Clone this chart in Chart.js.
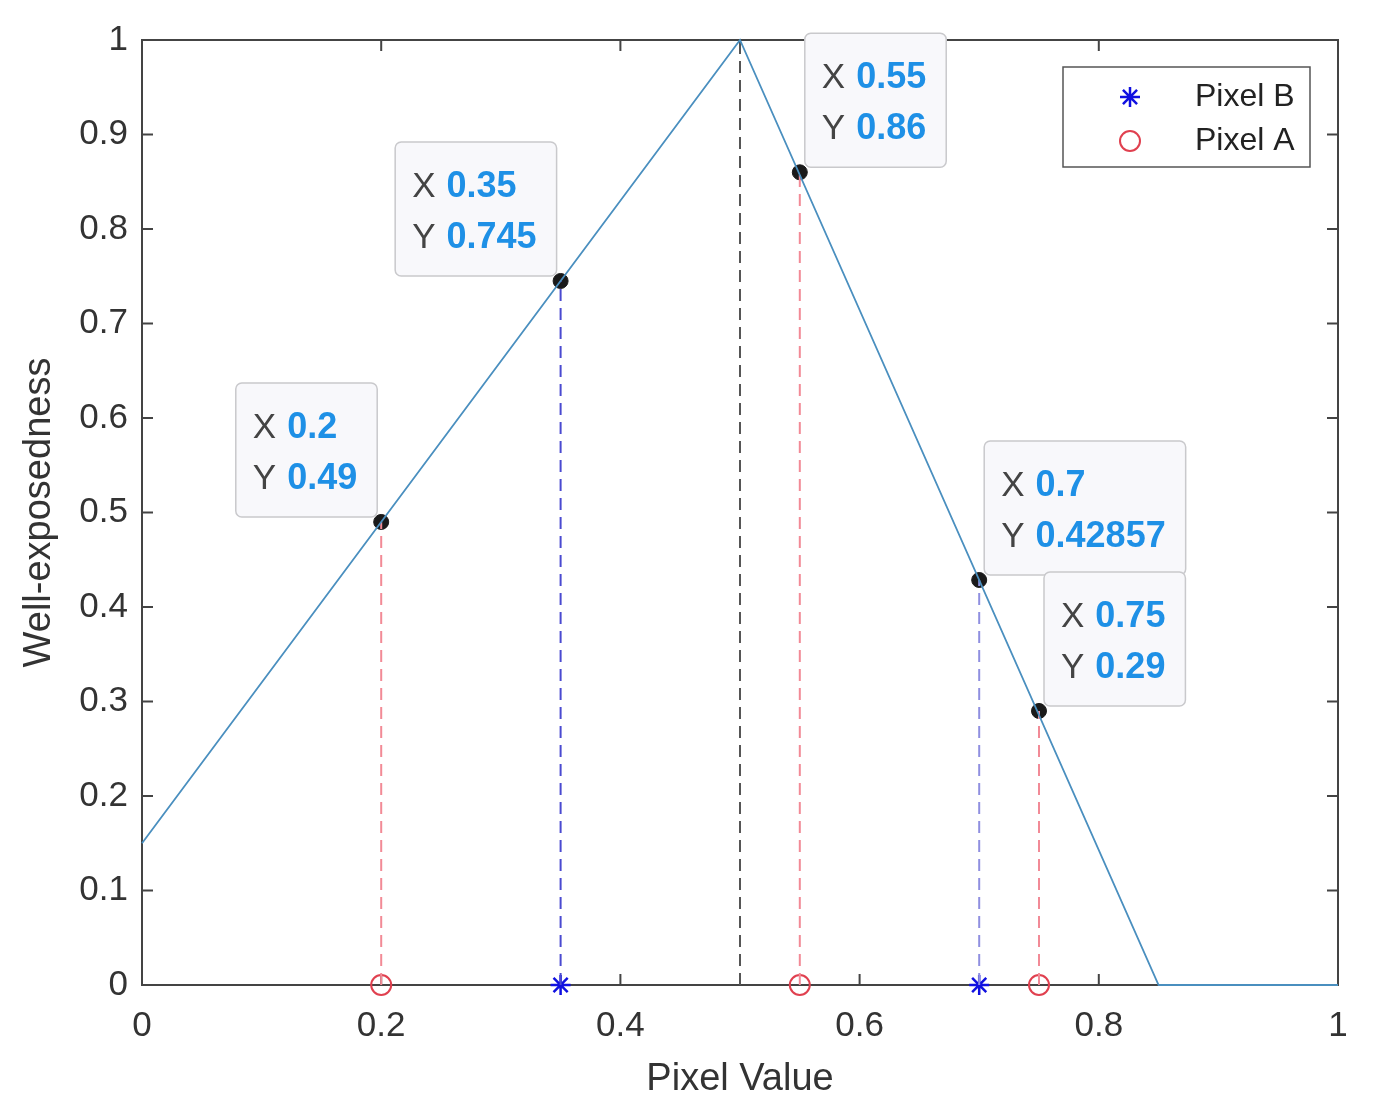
<!DOCTYPE html>
<html>
<head>
<meta charset="utf-8">
<script src="https://cdn.jsdelivr.net/npm/chart.js@4.4.1/dist/chart.umd.min.js"></script>
<style>
  html, body { margin: 0; padding: 0; background: #fff; }
  #wrap { width: 1386px; height: 1116px; }
</style>
</head>
<body>
<div id="wrap"><canvas id="chart" width="1386" height="1116"></canvas></div>
<script>
// well-exposedness curve
const curveX = [0, 0.5, 0.85, 1];
const curveY = [0.15, 1, 0, 0];

// pixel A / pixel B samples
const pixelAX = [0.2, 0.55, 0.75];
const pixelAY = [0.49, 0.86, 0.29];
const pixelBX = [0.35, 0.7];
const pixelBY = [0.745, 0.42857];

// peak
const peakX = [0.5];
const peakY = [1];

// data tips (in drawing order)
const tipX = [0.2, 0.35, 0.55, 0.7, 0.75];
const tipY = [0.49, 0.745, 0.86, 0.42857, 0.29];
const tipSide = ['left', 'left', 'right', 'right', 'right'];

const xTicks = [0, 0.2, 0.4, 0.6, 0.8, 1];
const yTicks = [0, 0.1, 0.2, 0.3, 0.4, 0.5, 0.6, 0.7, 0.8, 0.9, 1];

const FONT = '"Liberation Sans", Arial, sans-serif';

function dropLine(x, y, color) {
    return {
        type: 'scatter',
        data: [{x: x, y: 0}, {x: x, y: y}],
        showLine: true,
        borderColor: color,
        borderWidth: 2,
        borderDash: [12, 7],
        pointRadius: 0,
        clip: false
    };
}

const datasets = [];
datasets.push({
    type: 'scatter',
    data: curveX.map((x, i) => ({x: x, y: curveY[i]})),
    showLine: true,
    borderColor: '#4a8fbf',
    borderWidth: 1.8,
    pointRadius: 0,
    clip: false
});
pixelAX.forEach((x, i) => datasets.push(dropLine(x, pixelAY[i], '#f28a96')));
datasets.push(dropLine(pixelBX[0], pixelBY[0], '#4a4ad0'));
datasets.push(dropLine(pixelBX[1], pixelBY[1], '#8f8fe0'));
peakX.forEach((x, i) => datasets.push(dropLine(x, peakY[i], '#555555')));
// markers on axis
datasets.push({
    type: 'scatter',
    data: pixelAX.map(x => ({x: x, y: 0})),
    pointStyle: 'circle',
    pointRadius: 10,
    borderColor: '#e0404f',
    backgroundColor: 'rgba(0,0,0,0)',
    borderWidth: 2,
    clip: false
});
datasets.push({
    type: 'scatter',
    data: pixelBX.map(x => ({x: x, y: 0})),
    pointStyle: 'star',
    pointRadius: 10,
    borderColor: '#1010e0',
    borderWidth: 2.5,
    clip: false
});
// data tip dots
datasets.push({
    type: 'scatter',
    data: tipX.map((x, i) => ({x: x, y: tipY[i]})),
    pointStyle: 'circle',
    pointRadius: 7.5,
    backgroundColor: '#1a1a1a',
    borderColor: '#1a1a1a',
    borderWidth: 1,
    clip: false
});

const axisBox = {
    id: 'axisBox',
    beforeDatasetsDraw(chart) {
        const {ctx, chartArea: a, scales: {x, y}} = chart;
        ctx.save();
        ctx.strokeStyle = '#444';
        ctx.lineWidth = 2;
        ctx.strokeRect(a.left, a.top, a.right - a.left, a.bottom - a.top);
        ctx.beginPath();
        xTicks.forEach(v => {
            const px = x.getPixelForValue(v);
            ctx.moveTo(px, a.bottom); ctx.lineTo(px, a.bottom - 11);
            ctx.moveTo(px, a.top); ctx.lineTo(px, a.top + 11);
        });
        yTicks.forEach(v => {
            const py = y.getPixelForValue(v);
            ctx.moveTo(a.left, py); ctx.lineTo(a.left + 11, py);
            ctx.moveTo(a.right, py); ctx.lineTo(a.right - 11, py);
        });
        ctx.stroke();
        ctx.restore();
    },
    afterDraw(chart) {
        const {ctx, scales: {x, y}} = chart;
        ctx.save();
        // data tips
        tipX.forEach((vx, i) => {
            const px = x.getPixelForValue(vx);
            const py = y.getPixelForValue(tipY[i]);
            const valX = String(vx);
            const valY = String(tipY[i]);
            ctx.font = 'bold 36px ' + FONT;
            const vw = Math.max(ctx.measureText(valX).width, ctx.measureText(valY).width);
            ctx.font = '35px ' + FONT;
            const lw = ctx.measureText('Y').width;
            const w = 17 + lw + 11 + vw + 20;
            const h = 134;
            const bx = tipSide[i] === 'left' ? px - 4 - w : px + 5;
            const by = py - 5 - h;
            ctx.beginPath();
            ctx.roundRect(bx, by, w, h, 6);
            ctx.fillStyle = '#f8f8fb';
            ctx.fill();
            ctx.lineWidth = 1.5;
            ctx.strokeStyle = '#c9c9cc';
            ctx.stroke();
            ctx.textBaseline = 'middle';
            ctx.textAlign = 'left';
            ctx.fillStyle = '#444';
            ctx.font = '35px ' + FONT;
            ctx.fillText('X', bx + 17, by + 45);
            ctx.fillText('Y', bx + 17, by + 96);
            ctx.fillStyle = '#1e90e6';
            ctx.font = 'bold 36px ' + FONT;
            ctx.fillText(valX, bx + 17 + lw + 11, by + 45);
            ctx.fillText(valY, bx + 17 + lw + 11, by + 96);
        });
        // legend
        const lx = 1063, ly = 67, lwid = 247, lh = 100;
        ctx.fillStyle = '#fff';
        ctx.fillRect(lx, ly, lwid, lh);
        ctx.strokeStyle = '#555';
        ctx.lineWidth = 1.5;
        ctx.strokeRect(lx, ly, lwid, lh);
        ctx.strokeStyle = '#1010e0';
        ctx.lineWidth = 2.5;
        Chart.helpers.drawPoint(ctx, {pointStyle: 'star', radius: 10, borderWidth: 2.5, rotation: 0}, lx + 67, ly + 30);
        ctx.strokeStyle = '#e0404f';
        ctx.lineWidth = 2;
        ctx.fillStyle = 'rgba(0,0,0,0)';
        Chart.helpers.drawPoint(ctx, {pointStyle: 'circle', radius: 10, borderWidth: 2, rotation: 0}, lx + 67, ly + 74);
        ctx.fillStyle = '#222';
        ctx.font = '32px ' + FONT;
        ctx.textBaseline = 'middle';
        ctx.fillText('Pixel B', lx + 132, ly + 30);
        ctx.fillText('Pixel A', lx + 132, ly + 74);
        ctx.restore();
    }
};

const fmt = v => String(Math.round(v * 10) / 10);

new Chart(document.getElementById('chart').getContext('2d'), {
    type: 'scatter',
    data: { datasets: datasets },
    options: {
        responsive: false,
        animation: false,
        events: [],
        layout: { padding: { left: 0, top: 40, right: 48, bottom: 0 } },
        plugins: { legend: { display: false }, tooltip: { enabled: false } },
        scales: {
            x: {
                type: 'linear', min: 0, max: 1,
                afterFit(scale) { scale.height = 131; },
                afterBuildTicks(scale) { scale.ticks = xTicks.map(v => ({value: v})); },
                grid: { display: false, drawTicks: false },
                border: { display: false },
                ticks: { callback: fmt, font: { size: 35, family: FONT }, color: '#333', padding: 20, maxRotation: 0 },
                title: { display: true, text: 'Pixel Value', font: { size: 38, family: FONT }, color: '#333', padding: { top: 0, bottom: 14 } }
            },
            y: {
                type: 'linear', min: 0, max: 1,
                afterFit(scale) { scale.width = 142; },
                afterBuildTicks(scale) { scale.ticks = yTicks.map(v => ({value: v})); },
                grid: { display: false, drawTicks: false },
                border: { display: false },
                ticks: { callback: fmt, font: { size: 35, family: FONT }, color: '#333', padding: 14 },
                title: { display: true, text: 'Well-exposedness', font: { size: 38, family: FONT }, color: '#333', padding: { top: 17, bottom: 0 } }
            }
        }
    },
    plugins: [axisBox]
});
</script>
</body>
</html>
